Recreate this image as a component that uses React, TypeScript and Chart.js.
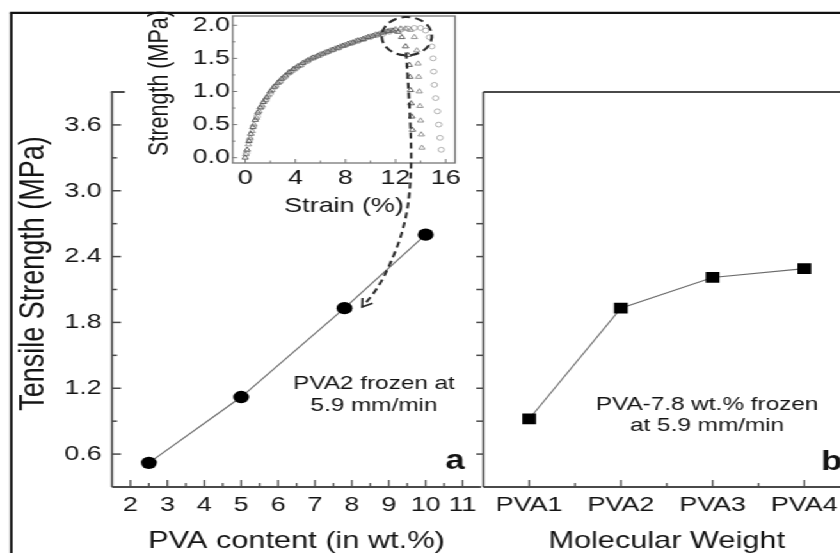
import React, { useEffect, useRef } from "react";
import { Chart, registerables } from "chart.js";

Chart.register(...registerables);

// ---------------- data ----------------
// panel a
const A_PVA_CONTENT = [2.5, 5, 7.8, 10];
const A_STRENGTH = [0.52, 1.12, 1.93, 2.6];
const A_X_TICKS = [2, 3, 4, 5, 6, 7, 8, 9, 10, 11];
const A_X_TICK_LABELS = ["2", "3", "4", "5", "6", "7", "8", "9", "10", "11"];
const A_X_MINOR = [2.5, 3.5, 4.5, 5.5, 6.5, 7.5, 8.5, 9.5, 10.5];

// panel b
const B_CATEGORIES = ["PVA1", "PVA2", "PVA3", "PVA4"];
const B_STRENGTH = [0.92, 1.93, 2.21, 2.29];

// shared y axis
const Y_TICKS = [0.6, 1.2, 1.8, 2.4, 3.0, 3.6];
const Y_TICK_LABELS = ["0.6", "1.2", "1.8", "2.4", "3.0", "3.6"];
const Y_MINOR = [0.9, 1.5, 2.1, 2.7, 3.3];

// inset: stress-strain curves
const INSET_STRAIN_1 = [0, 0.15, 0.3, 0.45, 0.6, 0.8, 1.0, 1.2, 1.45, 1.7, 2.0, 2.3, 2.6, 2.9, 3.2, 3.5, 3.85, 4.2, 4.6, 5.0, 5.4, 5.8, 6.2, 6.6, 7.0, 7.4, 7.8, 8.2, 8.6, 9.0, 9.4, 9.8, 10.2, 10.6, 11.0, 11.4, 11.8, 12.2, 12.5, 12.8, 13.0, 13.1, 13.15, 13.2, 13.25, 13.3, 13.35];
const INSET_STRESS_1 = [0, 0.12, 0.25, 0.36, 0.46, 0.57, 0.68, 0.76, 0.84, 0.91, 1.0, 1.07, 1.13, 1.19, 1.24, 1.29, 1.34, 1.38, 1.43, 1.47, 1.51, 1.54, 1.57, 1.6, 1.63, 1.66, 1.69, 1.72, 1.74, 1.77, 1.79, 1.82, 1.84, 1.86, 1.89, 1.91, 1.92, 1.9, 1.82, 1.68, 1.55, 1.4, 1.22, 1.02, 0.82, 0.62, 0.42];
const INSET_STRAIN_2 = [0.05, 0.25, 0.4, 0.55, 0.7, 0.9, 1.1, 1.35, 1.6, 1.85, 2.15, 2.45, 2.75, 3.05, 3.4, 3.7, 4.05, 4.4, 4.8, 5.2, 5.6, 6.0, 6.4, 6.8, 7.2, 7.6, 8.0, 8.4, 8.8, 9.2, 9.6, 10.0, 10.4, 10.8, 11.2, 11.6, 12.0, 12.4, 12.8, 13.2, 13.5, 13.7, 13.8, 13.85, 13.9, 13.95, 14.0, 14.05, 14.1];
const INSET_STRESS_2 = [0.05, 0.2, 0.3, 0.4, 0.5, 0.6, 0.7, 0.79, 0.87, 0.94, 1.02, 1.09, 1.15, 1.21, 1.27, 1.31, 1.36, 1.4, 1.45, 1.49, 1.52, 1.56, 1.59, 1.62, 1.65, 1.68, 1.7, 1.73, 1.76, 1.78, 1.81, 1.83, 1.86, 1.88, 1.9, 1.92, 1.94, 1.95, 1.95, 1.93, 1.82, 1.62, 1.42, 1.22, 1.0, 0.78, 0.56, 0.35, 0.15];
const INSET_STRAIN_3 = [0.1, 0.35, 0.65, 0.95, 1.3, 1.65, 2.0, 2.4, 2.8, 3.2, 3.6, 4.0, 4.5, 5.0, 5.5, 6.0, 6.5, 7.0, 7.5, 8.0, 8.5, 9.0, 9.5, 10.0, 10.5, 11.0, 11.5, 12.0, 12.5, 13.0, 13.5, 14.0, 14.4, 14.7, 14.9, 15.0, 15.05, 15.1, 15.2, 15.35, 15.45, 15.55, 15.65];
const INSET_STRESS_3 = [0.07, 0.27, 0.47, 0.62, 0.76, 0.87, 0.97, 1.07, 1.15, 1.22, 1.29, 1.34, 1.4, 1.46, 1.51, 1.55, 1.59, 1.63, 1.66, 1.7, 1.73, 1.76, 1.79, 1.82, 1.85, 1.87, 1.9, 1.92, 1.94, 1.95, 1.96, 1.96, 1.92, 1.82, 1.68, 1.5, 1.3, 1.1, 0.9, 0.7, 0.5, 0.3, 0.12];
const INSET_X_TICKS = [0, 4, 8, 12, 16];
const INSET_X_TICK_LABELS = ["0", "4", "8", "12", "16"];
const INSET_X_MINOR = [2, 6, 10, 14];
const INSET_Y_TICKS = [0, 0.5, 1.0, 1.5, 2.0];
const INSET_Y_TICK_LABELS = ["0.0", "0.5", "1.0", "1.5", "2.0"];
const INSET_Y_MINOR = [0.25, 0.75, 1.25, 1.75];

// annotation arrow path (in panel-a data units) and ellipse (in inset data units)
const ARROW_PATH: [number, number][] = [[9.47, 4.26], [9.63, 3.48], [9.58, 2.97], [9.39, 2.63], [9.03, 2.32], [8.68, 2.1], [8.28, 1.94]];
const ELLIPSE = { cx: 12.9, cy: 1.835, rx: 2.0, ry: 0.29 };

// ---------------- layout / style ----------------
const SX = 1.28; // horizontal stretch of the original figure
const STAGE_W = 720;
const STAGE_H = 553;
const FONT = '"Liberation Sans", Arial, Helvetica, sans-serif';
const TXT = "#141414";
const AXIS = "#4a4a4a";
const A_LEFT = 87.5;
const A_RIGHT = 375.8;
const PLOT_TOP = 92;
const PLOT_BOTTOM = 487;
const B_CANVAS_LEFT = 370;
const B_CANVAS_W = 350;
const B_RIGHT = 664.2;
const I_CANVAS_LEFT = 100;
const I_CANVAS_W = 270;
const I_CANVAS_H = 235;
const I_BOX = { left: 181.8, right: 355.5, top: 16, bottom: 163 };

function seg(ctx: CanvasRenderingContext2D, x1: number, y1: number, x2: number, y2: number) {
  ctx.beginPath();
  ctx.moveTo(x1, y1);
  ctx.lineTo(x2, y2);
  ctx.stroke();
}

const panelAPlugin = {
  id: "panelA",
  afterDraw(chart: any) {
    const { ctx, chartArea: ca } = chart;
    const xs = chart.scales.x;
    const ys = chart.scales.y;
    ctx.save();
    // outer frame
    ctx.strokeStyle = "#111";
    ctx.lineWidth = 2;
    seg(ctx, 8.8, 12.8, 8.8, STAGE_H + 10);
    ctx.lineWidth = 2.2;
    seg(ctx, 7.8, 12.8, STAGE_W + 10, 12.8);
    // axes
    ctx.strokeStyle = AXIS;
    ctx.lineWidth = 1.6;
    seg(ctx, ca.left, ca.top, ca.left, ca.bottom);
    ctx.lineWidth = 2;
    seg(ctx, ca.left, ca.bottom, ca.right, ca.bottom);
    seg(ctx, ca.left - 0.8, ca.top, ca.left + 10, ca.top);
    // ticks (inward)
    ctx.lineWidth = 1.5;
    Y_TICKS.forEach((v) => { const p = ys.getPixelForValue(v); seg(ctx, ca.left, p, ca.left + 7, p); });
    Y_MINOR.forEach((v) => { const p = ys.getPixelForValue(v); seg(ctx, ca.left, p, ca.left + 4, p); });
    ctx.lineWidth = 1.3;
    A_X_TICKS.forEach((v) => { const p = xs.getPixelForValue(v); seg(ctx, p, ca.bottom, p, ca.bottom - 7); });
    A_X_MINOR.forEach((v) => { const p = xs.getPixelForValue(v); seg(ctx, p, ca.bottom, p, ca.bottom - 4); });
    // titles
    ctx.fillStyle = TXT;
    ctx.textAlign = "center";
    ctx.textBaseline = "alphabetic";
    ctx.font = `24px ${FONT}`;
    ctx.fillText("PVA content (in wt.%)", (ca.left + ca.right) / 2, 548);
    ctx.save();
    ctx.translate(33.8, 273.5);
    ctx.rotate(-Math.PI / 2);
    ctx.font = `27px ${FONT}`;
    ctx.fillText("Tensile Strength (MPa)", 0, 0);
    ctx.restore();
    // annotation
    ctx.font = `19px ${FONT}`;
    const ax = xs.getPixelForValue(8.6);
    const ay = ys.getPixelForValue(1.195);
    ctx.fillText("PVA2 frozen at", ax, ay);
    ctx.fillText("5.9 mm/min", ax, ay + 22.7);
    ctx.font = `bold 27px ${FONT}`;
    ctx.fillText("a", xs.getPixelForValue(10.8), ys.getPixelForValue(0.465));
    // dashed arrow
    const pts = ARROW_PATH.map(([vx, vy]) => [xs.getPixelForValue(vx), ys.getPixelForValue(vy)]);
    ctx.strokeStyle = "#2a2a2a";
    ctx.lineWidth = 2;
    ctx.setLineDash([6, 4]);
    ctx.beginPath();
    ctx.moveTo(pts[0][0], pts[0][1]);
    for (let i = 1; i < pts.length - 1; i++) {
      const mx = (pts[i][0] + pts[i + 1][0]) / 2;
      const my = (pts[i][1] + pts[i + 1][1]) / 2;
      ctx.quadraticCurveTo(pts[i][0], pts[i][1], mx, my);
    }
    const end = pts[pts.length - 1];
    ctx.lineTo(end[0], end[1]);
    ctx.stroke();
    ctx.setLineDash([]);
    const prev = pts[pts.length - 2];
    const th = Math.atan2(end[1] - prev[1], end[0] - prev[0]);
    const L = 9;
    ctx.lineWidth = 1.6;
    ctx.beginPath();
    ctx.moveTo(end[0] - L * Math.cos(th - 0.55), end[1] - L * Math.sin(th - 0.55));
    ctx.lineTo(end[0], end[1]);
    ctx.lineTo(end[0] - L * Math.cos(th + 0.55), end[1] - L * Math.sin(th + 0.55));
    ctx.stroke();
    ctx.restore();
  },
};

const panelBPlugin = {
  id: "panelB",
  afterDraw(chart: any) {
    const { ctx, chartArea: ca } = chart;
    const xs = chart.scales.x;
    const ys = chart.scales.y;
    ctx.save();
    ctx.strokeStyle = AXIS;
    ctx.lineWidth = 1.6;
    seg(ctx, ca.left, ca.top, ca.left, ca.bottom);
    seg(ctx, ca.right, ca.top, ca.right, ca.bottom);
    ctx.lineWidth = 2;
    seg(ctx, ca.left, ca.top, ca.right, ca.top);
    seg(ctx, ca.left, ca.bottom, ca.right, ca.bottom);
    ctx.lineWidth = 1.5;
    [...Y_TICKS, ...Y_MINOR].forEach((v) => {
      const p = ys.getPixelForValue(v);
      seg(ctx, ca.left - 5.5, p, ca.left, p);
      seg(ctx, ca.right - 5.5, p, ca.right, p);
    });
    ctx.lineWidth = 1.3;
    B_CATEGORIES.forEach((_c, i) => {
      const p = xs.getPixelForValue(i);
      seg(ctx, p, ca.bottom, p, ca.bottom - 7);
      if (i < B_CATEGORIES.length - 1) {
        const q = xs.getPixelForValue(i + 0.5);
        seg(ctx, q, ca.bottom, q, ca.bottom - 4);
      }
    });
    ctx.fillStyle = TXT;
    ctx.textAlign = "center";
    ctx.textBaseline = "alphabetic";
    ctx.font = `24px ${FONT}`;
    ctx.fillText("Molecular Weight", (ca.left + ca.right) / 2, 548);
    ctx.font = `19px ${FONT}`;
    const bx = xs.getPixelForValue(1.94);
    const by = ys.getPixelForValue(1.005);
    ctx.fillText("PVA-7.8 wt.% frozen", bx, by);
    ctx.fillText("at 5.9 mm/min", bx, by + 21.7);
    ctx.font = `bold 27px ${FONT}`;
    ctx.fillText("b", xs.getPixelForValue(3.3), ys.getPixelForValue(0.456));
    ctx.restore();
  },
};

const insetPlugin = {
  id: "inset",
  afterDraw(chart: any) {
    const { ctx, chartArea: ca } = chart;
    const xs = chart.scales.x;
    const ys = chart.scales.y;
    ctx.save();
    ctx.strokeStyle = "#777";
    ctx.lineWidth = 1.3;
    ctx.strokeRect(ca.left, ca.top, ca.right - ca.left, ca.bottom - ca.top);
    ctx.lineWidth = 1;
    INSET_X_TICKS.forEach((v) => { const p = xs.getPixelForValue(v); seg(ctx, p, ca.bottom, p, ca.bottom - 4); });
    INSET_X_MINOR.forEach((v) => { const p = xs.getPixelForValue(v); seg(ctx, p, ca.bottom, p, ca.bottom - 2.5); });
    INSET_Y_TICKS.forEach((v) => { const p = ys.getPixelForValue(v); seg(ctx, ca.left, p, ca.left + 3.5, p); });
    INSET_Y_MINOR.forEach((v) => { const p = ys.getPixelForValue(v); seg(ctx, ca.left, p, ca.left + 2, p); });
    // dashed ellipse around failure region
    const cx = xs.getPixelForValue(ELLIPSE.cx);
    const cy = ys.getPixelForValue(ELLIPSE.cy);
    const rx = Math.abs(xs.getPixelForValue(ELLIPSE.cx + ELLIPSE.rx) - cx);
    const ry = Math.abs(ys.getPixelForValue(ELLIPSE.cy + ELLIPSE.ry) - cy);
    ctx.strokeStyle = "#2a2a2a";
    ctx.lineWidth = 2;
    ctx.setLineDash([7, 4]);
    ctx.beginPath();
    ctx.ellipse(cx, cy, rx, ry, -0.08, 0, Math.PI * 2);
    ctx.stroke();
    ctx.setLineDash([]);
    // titles
    ctx.fillStyle = TXT;
    ctx.textAlign = "center";
    ctx.textBaseline = "alphabetic";
    ctx.font = `21px ${FONT}`;
    ctx.fillText("Strain (%)", 268.75 - I_CANVAS_LEFT, 212);
    ctx.save();
    ctx.translate(130.9 - I_CANVAS_LEFT, 83);
    ctx.rotate(-Math.PI / 2);
    ctx.font = `21.5px ${FONT}`;
    ctx.fillText("Strength (MPa)", 0, 0);
    ctx.restore();
    ctx.restore();
  },
};

const tickFont = { family: FONT, size: 21 };
const offAxis = { grid: { display: false, drawTicks: false }, border: { display: false } };

function pairs(xs: number[], ys: number[]) {
  return xs.map((x, i) => ({ x, y: ys[i] }));
}

export default function App() {
  const aRef = useRef<HTMLCanvasElement>(null);
  const bRef = useRef<HTMLCanvasElement>(null);
  const iRef = useRef<HTMLCanvasElement>(null);

  useEffect(() => {
    const charts: Chart[] = [];
    // panel b
    charts.push(
      new Chart(bRef.current!, {
        type: "line",
        data: {
          labels: B_CATEGORIES,
          datasets: [
            {
              data: B_STRENGTH,
              borderColor: "#6a6a6a",
              borderWidth: 1.1,
              pointStyle: "rect",
              pointRadius: 7.6,
              pointBackgroundColor: "#000",
              pointBorderColor: "#000",
              pointBorderWidth: 0,
              tension: 0,
            },
          ],
        },
        options: {
          responsive: false,
          animation: false,
          devicePixelRatio: 1,
          layout: { padding: { left: A_RIGHT - B_CANVAS_LEFT, top: PLOT_TOP, right: B_CANVAS_LEFT + B_CANVAS_W - B_RIGHT, bottom: 0 } },
          plugins: { legend: { display: false }, tooltip: { enabled: false } },
          scales: {
            x: {
              type: "category",
              offset: true,
              ...offAxis,
              ticks: { font: tickFont, color: TXT, padding: 6, autoSkip: false, maxRotation: 0 },
              afterFit: (s: any) => { s.height = STAGE_H - PLOT_BOTTOM; },
            },
            y: {
              type: "linear",
              min: 0.3,
              max: 3.9,
              ...offAxis,
              ticks: { display: false },
              afterFit: (s: any) => { s.width = 0; },
            },
          },
        } as any,
        plugins: [panelBPlugin],
      })
    );
    // inset
    charts.push(
      new Chart(iRef.current!, {
        type: "scatter",
        data: {
          datasets: [
            { data: pairs(INSET_STRAIN_1, INSET_STRESS_1), pointStyle: "triangle", pointRadius: 2.8, pointBorderWidth: 0.9, borderColor: "#555", backgroundColor: "rgba(0,0,0,0)" },
            { data: pairs(INSET_STRAIN_2, INSET_STRESS_2), pointStyle: "triangle", pointRadius: 2.8, pointBorderWidth: 0.9, borderColor: "#8a8a8a", backgroundColor: "rgba(0,0,0,0)" },
            { data: pairs(INSET_STRAIN_3, INSET_STRESS_3), pointStyle: "circle", pointRadius: 2.4, pointBorderWidth: 0.9, borderColor: "#a8a8a8", backgroundColor: "rgba(0,0,0,0)" },
          ],
        },
        options: {
          responsive: false,
          animation: false,
          devicePixelRatio: 1,
          layout: { padding: { left: 0, top: I_BOX.top, right: I_CANVAS_LEFT + I_CANVAS_W - I_BOX.right, bottom: 0 } },
          plugins: { legend: { display: false }, tooltip: { enabled: false } },
          scales: {
            x: {
              type: "linear",
              min: -1,
              max: 16.75,
              ...offAxis,
              afterBuildTicks: (s: any) => { s.ticks = INSET_X_TICKS.map((v) => ({ value: v })); },
              ticks: { font: tickFont, color: TXT, padding: 3, autoSkip: false, maxRotation: 0, callback: (_v: any, i: number) => INSET_X_TICK_LABELS[i] },
              afterFit: (s: any) => { s.height = I_CANVAS_H - I_BOX.bottom; },
            },
            y: {
              type: "linear",
              min: -0.08,
              max: 2.14,
              ...offAxis,
              afterBuildTicks: (s: any) => { s.ticks = INSET_Y_TICKS.map((v) => ({ value: v })); },
              ticks: { font: tickFont, color: TXT, padding: 2, autoSkip: false, callback: (_v: any, i: number) => INSET_Y_TICK_LABELS[i] },
              afterFit: (s: any) => { s.width = I_BOX.left - I_CANVAS_LEFT; },
            },
          },
        } as any,
        plugins: [insetPlugin],
      })
    );
    // panel a (top-most layer, also frame + arrow)
    charts.push(
      new Chart(aRef.current!, {
        type: "line",
        data: {
          datasets: [
            {
              data: pairs(A_PVA_CONTENT, A_STRENGTH),
              borderColor: "#6a6a6a",
              borderWidth: 1.1,
              pointStyle: "circle",
              pointRadius: 6.2,
              pointBackgroundColor: "#000",
              pointBorderColor: "#000",
              pointBorderWidth: 0,
              tension: 0,
            },
          ],
        },
        options: {
          responsive: false,
          animation: false,
          devicePixelRatio: 1,
          layout: { padding: { left: 0, top: PLOT_TOP, right: STAGE_W - A_RIGHT, bottom: 0 } },
          plugins: { legend: { display: false }, tooltip: { enabled: false } },
          scales: {
            x: {
              type: "linear",
              min: 1.5,
              max: 11.5,
              ...offAxis,
              afterBuildTicks: (s: any) => { s.ticks = A_X_TICKS.map((v) => ({ value: v })); },
              ticks: { font: tickFont, color: TXT, padding: 6, autoSkip: false, maxRotation: 0, callback: (_v: any, i: number) => A_X_TICK_LABELS[i] },
              afterFit: (s: any) => { s.height = STAGE_H - PLOT_BOTTOM; },
            },
            y: {
              type: "linear",
              min: 0.3,
              max: 3.9,
              ...offAxis,
              afterBuildTicks: (s: any) => { s.ticks = Y_TICKS.map((v) => ({ value: v })); },
              ticks: { font: tickFont, color: TXT, padding: 8, autoSkip: false, callback: (_v: any, i: number) => Y_TICK_LABELS[i] },
              afterFit: (s: any) => { s.width = A_LEFT; },
            },
          },
        } as any,
        plugins: [panelAPlugin],
      })
    );
    return () => charts.forEach((c) => c.destroy());
  }, []);

  const abs = (left: number, top: number, w: number, h: number): React.CSSProperties => ({
    position: "absolute",
    left,
    top,
    width: w,
    height: h,
  });

  return (
    <div style={{ position: "fixed", left: 0, top: 0, width: 840, height: 553, overflow: "hidden", background: "#fff" }}>
      <div style={{ position: "absolute", left: 0, top: 0, width: STAGE_W, height: STAGE_H, transform: `scaleX(${SX})`, transformOrigin: "0 0" }}>
        <canvas ref={bRef} width={B_CANVAS_W} height={STAGE_H} style={abs(B_CANVAS_LEFT, 0, B_CANVAS_W, STAGE_H)} />
        <canvas ref={iRef} width={I_CANVAS_W} height={I_CANVAS_H} style={abs(I_CANVAS_LEFT, 0, I_CANVAS_W, I_CANVAS_H)} />
        <canvas ref={aRef} width={STAGE_W} height={STAGE_H} style={abs(0, 0, STAGE_W, STAGE_H)} />
      </div>
    </div>
  );
}
